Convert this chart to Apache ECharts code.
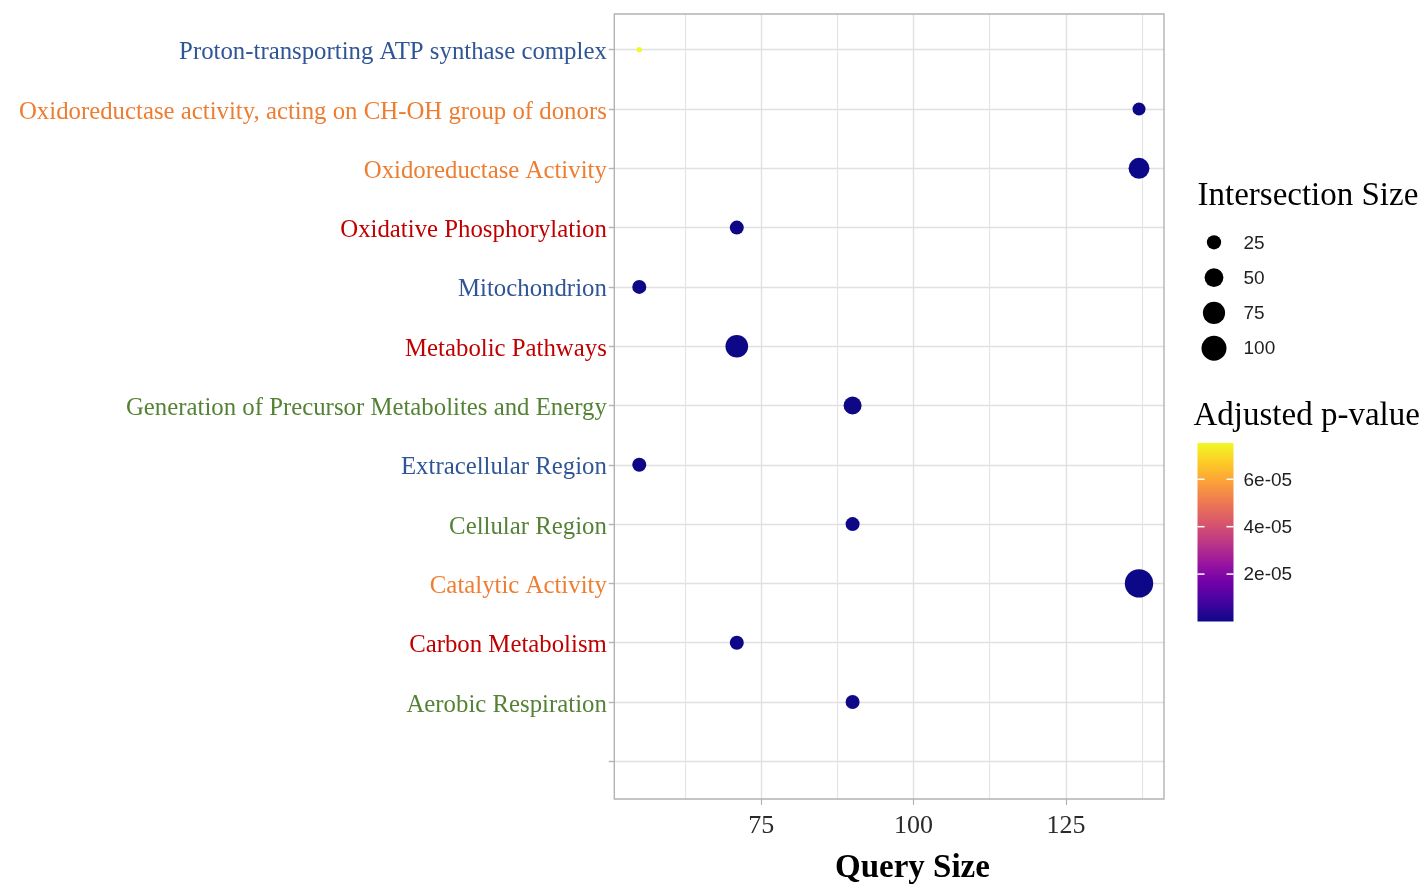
<!DOCTYPE html>
<html>
<head>
<meta charset="utf-8">
<title>Enrichment dot plot</title>
<script src="https://cdn.jsdelivr.net/npm/echarts@6/dist/echarts.min.js"></script>
<style>
  html, body { margin: 0; padding: 0; background: #ffffff; }
  #chart { width: 1425px; height: 885px; }
</style>
</head>
<body>
<div id="chart"></div>
<script>
// Enriched terms, listed top to bottom; the last, empty row keeps the spare slot under the data.
const terms = [
  'Proton-transporting ATP synthase complex',
  'Oxidoreductase activity, acting on CH-OH group of donors',
  'Oxidoreductase Activity',
  'Oxidative Phosphorylation',
  'Mitochondrion',
  'Metabolic Pathways',
  'Generation of Precursor Metabolites and Energy',
  'Extracellular Region',
  'Cellular Region',
  'Catalytic Activity',
  'Carbon Metabolism',
  'Aerobic Respiration',
  ''
];
// Annotation source of each term (drives the label colour).
const sources = ['CC', 'MF', 'MF', 'KEGG', 'CC', 'KEGG', 'BP', 'CC', 'BP', 'MF', 'KEGG', 'BP', ''];
const querySize = [55, 137, 137, 71, 55, 71, 90, 55, 90, 137, 71, 90];
const intersectionSize = [5, 20, 65, 24, 24, 79, 45, 24, 24, 136, 24, 24];
const adjPValue = [7.53e-5, 2.1e-7, 3.4e-9, 1.2e-7, 4.5e-8, 6.0e-9, 8.7e-8, 1.5e-7, 9.9e-8, 1.1e-10, 1.8e-7, 2.6e-7];

const xTickValues = [75, 100, 125];
const sizeBreaks = [25, 50, 75, 100];
const pBreaks = [2e-5, 4e-5, 6e-5];

const sourceColors = { CC: '#2F5597', MF: '#ED7D31', KEGG: '#C00000', BP: '#548235' };
const plasma = ['#0d0887', '#46039f', '#7201a8', '#9c179e', '#bd3786',
                '#d8576b', '#ed7953', '#fb9f3a', '#fdca26', '#f0f921'];

const SERIF = '"Liberation Serif", "Times New Roman", serif';
const SANS = '"Liberation Sans", Arial, sans-serif';

// Point diameter: area-style scale between the smallest and largest intersection.
const sMin = Math.min(...intersectionSize);
const sMax = Math.max(...intersectionSize);
function dotSize(v) {
  const t = Math.max(0, (v - sMin) / (sMax - sMin));
  return 5.2 + 23.2 * Math.sqrt(t);
}
const pMin = Math.min(...adjPValue);
const pMax = Math.max(...adjPValue);

const points = querySize.map((q, i) => [q, terms[i], intersectionSize[i], adjPValue[i]]);

// Panel geometry: x range is the data range widened by 5% on each side
const panel = { left: 614.3, top: 14, right: 1164, bottom: 799 };
const rowTop = 49.7, rowBottom = 761.3;   // centres of the first and last rows
const xMin = 50, xMax = 141.1, panelXMin = 50.9;
const pxPerUnit = (panel.right - panel.left) / (xMax - panelXMin);
const gridLeft = panel.left - (panelXMin - xMin) * pxPerUnit;
const gridRight = 1425 - panel.right;

// Legend helpers
const sizeLegend = { x: 1214, titleY: 196, firstY: 242.3, step: 35.3, textX: 1243.5 };
const bar = { x: 1197.5, y: 443, w: 36, h: 178.5 };
function barY(p) { return bar.y + bar.h - (p - pMin) / (pMax - pMin) * bar.h; }

const graphics = [];
graphics.push({
  type: 'rect', z: 20,
  shape: { x: panel.left, y: panel.top, width: panel.right - panel.left, height: panel.bottom - panel.top },
  style: { fill: 'none', stroke: '#b3b3b3', lineWidth: 1.4 }
});
graphics.push({
  type: 'text', z: 20,
  style: { text: 'Intersection Size', x: 1197.5, y: sizeLegend.titleY, font: '33px ' + SERIF,
           fill: '#000', verticalAlign: 'middle', align: 'left' }
});
sizeBreaks.forEach((b, i) => {
  const cy = sizeLegend.firstY + i * sizeLegend.step;
  graphics.push({
    type: 'circle', z: 20,
    shape: { cx: sizeLegend.x, cy: cy, r: dotSize(b) / 2 },
    style: { fill: '#000' }
  });
  graphics.push({
    type: 'text', z: 20,
    style: { text: String(b), x: sizeLegend.textX, y: cy + 1, font: '19px ' + SANS,
             fill: '#1f1f1f', verticalAlign: 'middle', align: 'left' }
  });
});
graphics.push({
  type: 'text', z: 20,
  style: { text: 'Adjusted p-value', x: 1193.5, y: 416, font: '33px ' + SERIF,
           fill: '#000', verticalAlign: 'middle', align: 'left' }
});
graphics.push({
  type: 'rect', z: 20,
  shape: { x: bar.x, y: bar.y, width: bar.w, height: bar.h },
  style: {
    fill: new echarts.graphic.LinearGradient(0, 0, 0, 1,
      plasma.slice().reverse().map((c, i) => ({ offset: i / (plasma.length - 1), color: c })))
  }
});
pBreaks.forEach(p => {
  const y = barY(p);
  graphics.push({ type: 'line', z: 21, shape: { x1: bar.x, y1: y, x2: bar.x + 7, y2: y },
                  style: { stroke: '#ffffff', lineWidth: 1.5 } });
  graphics.push({ type: 'line', z: 21, shape: { x1: bar.x + bar.w - 7, y1: y, x2: bar.x + bar.w, y2: y },
                  style: { stroke: '#ffffff', lineWidth: 1.5 } });
  graphics.push({
    type: 'text', z: 20,
    style: { text: p.toExponential(0).replace('e-', 'e-0'), x: 1243.5, y: y + 1, font: '19px ' + SANS,
             fill: '#1f1f1f', verticalAlign: 'middle', align: 'left' }
  });
});

const chart = echarts.init(document.getElementById('chart'), null, { renderer: 'canvas' });
chart.setOption({
  animation: false,
  backgroundColor: '#ffffff',
  grid: [
    // full-height grid carrying the vertical grid lines and the x scale
    { left: gridLeft, right: gridRight, top: panel.top, bottom: 885 - panel.bottom, outerBoundsMode: 'none', containLabel: false },
    // data grid: spans from the first to the last row centre
    { left: gridLeft, right: gridRight, top: rowTop, bottom: 885 - rowBottom, outerBoundsMode: 'none', containLabel: false }
  ],
  xAxis: [
    {
      gridIndex: 0, type: 'value', min: xMin, max: xMax, interval: 25,
      axisLine: { show: false },
      axisTick: { show: true, length: 6, customValues: xTickValues, lineStyle: { color: '#b3b3b3', width: 1.2 } },
      axisLabel: {
        customValues: xTickValues, margin: 14,
        fontFamily: SERIF, fontSize: 26, color: '#2b2b2b'
      },
      splitLine: { show: true, lineStyle: { color: '#e0e0e0', width: 1.4 } },
      minorTick: { show: false, splitNumber: 2 },
      minorSplitLine: { show: true, lineStyle: { color: '#e3e3e3', width: 1.1 } },
      name: 'Query Size', nameLocation: 'middle', nameGap: 53,
      nameTextStyle: { fontFamily: SERIF, fontSize: 33, fontWeight: 'bold', color: '#000',
                       padding: [0, 0, 0, 52] }
    },
    { gridIndex: 1, type: 'value', min: xMin, max: xMax, show: false, splitLine: { show: false } }
  ],
  yAxis: [
    { gridIndex: 0, type: 'value', show: false, splitLine: { show: false } },
    {
      gridIndex: 1, type: 'category', inverse: true, data: terms, boundaryGap: false,
      axisLine: { show: false },
      axisTick: { show: true, inside: true, length: panel.left - gridLeft, interval: 0,
                  lineStyle: { color: '#b3b3b3', width: 1.2 } },
      axisLabel: {
        margin: 2, fontFamily: SERIF, fontSize: 24.8, interval: 0,
        verticalAlign: 'top', lineHeight: 6,
        color: (value) => sourceColors[sources[terms.indexOf(value)]] || '#333'
      },
      splitLine: { show: true, interval: 0, lineStyle: { color: '#e0e0e0', width: 1.4 } }
    }
  ],
  visualMap: {
    type: 'continuous', show: false, seriesIndex: 0, dimension: 3,
    min: pMin, max: pMax, inRange: { color: plasma }
  },
  series: [{
    type: 'scatter', xAxisIndex: 1, yAxisIndex: 1,
    data: points,
    encode: { x: 0, y: 1 },
    symbol: 'circle',
    symbolSize: (val) => dotSize(val[2]),
    itemStyle: { opacity: 1 },
    emphasis: { disabled: true },
    z: 5
  }],
  graphic: graphics
});
</script>
</body>
</html>
